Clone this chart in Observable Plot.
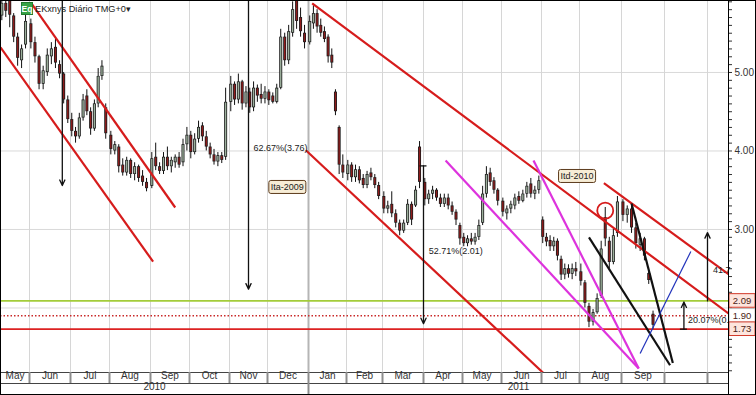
<!DOCTYPE html>
<html><head><meta charset="utf-8">
<script src="https://cdn.jsdelivr.net/npm/d3@7"></script>
<script src="https://cdn.jsdelivr.net/npm/@observablehq/plot@0.6"></script>
<style>
html,body{margin:0;padding:0;background:#fff;}
#wrap{position:relative;width:756px;height:395px;overflow:hidden;}
#title{position:absolute;left:21px;top:2px;font:9.2px "Liberation Sans",Arial,sans-serif;color:#222;display:flex;align-items:center;gap:2px;white-space:nowrap;height:13px;}
#title .eq{background:#36a346;color:#fff;font-weight:bold;font-size:8.5px;width:12px;height:13px;display:inline-flex;align-items:center;justify-content:center;box-sizing:border-box;border:1px solid #227a2e;}
</style></head><body>
<div id="wrap"><div id="chart"></div><div id="title"><span class="eq">Eq</span><span>EKxnys Diário TMG+0▾</span></div></div>
<script>
// ---------- scale breakpoints (trading-calendar month starts) ----------
const scaleDates = ["2010-05-10","2010-06-01","2010-07-01","2010-08-01","2010-09-01","2010-10-01","2010-11-01","2010-12-01","2011-01-01","2011-02-01","2011-03-01","2011-04-01","2011-05-01","2011-06-01","2011-07-01","2011-08-01","2011-09-01","2011-10-01","2011-11-01","2011-11-16"];
const monthLabels = ["May","Jun","Jul","Aug","Sep","Oct","Nov","Dec","Jan","Feb","Mar","Apr","May","Jun","Jul","Aug","Sep"];
const yearLabels = ["2010","2011"];
const yearBounds = ["2010-05-10","2011-01-01","2011-11-16"];
const yDomain = [1.178, 5.917];
const yMajorTicks = [3, 4, 5];
const yTickLabels = ["3.00","4.00","5.00"];
const gridValues = [2, 3, 4, 5];

// ---------- price levels ----------
const levelValues = [2.09, 1.90, 1.73];
const levelLabels = ["2.09","1.90","1.73"];

// ---------- candles: [date, open, high, low, close] ----------
const candles2010 = [
["2010-05-11",5.72,5.95,5.66,5.88],["2010-05-14",5.88,5.95,5.70,5.78],["2010-05-17",5.95,6.00,5.57,5.73],
["2010-05-20",5.72,5.75,5.38,5.45],["2010-05-23",5.45,5.50,5.08,5.18],["2010-05-26",5.15,5.35,5.05,5.30],
["2010-05-29",5.35,5.78,5.30,5.65],
["2010-06-02",5.62,5.68,5.30,5.38],["2010-06-05",5.38,5.45,5.12,5.20],["2010-06-08",5.20,5.22,4.78,4.85],
["2010-06-11",4.85,5.08,4.78,5.02],["2010-06-14",5.00,5.30,4.95,5.22],["2010-06-17",5.20,5.38,5.10,5.30],
["2010-06-20",5.32,5.42,5.05,5.12],["2010-06-23",5.10,5.15,4.92,4.98],["2010-06-26",4.98,5.00,4.60,4.65],
["2010-06-29",4.65,4.70,4.35,4.40],
["2010-07-02",4.40,4.48,4.18,4.25],["2010-07-05",4.25,4.30,4.10,4.18],["2010-07-08",4.18,4.48,4.15,4.42],
["2010-07-11",4.42,4.72,4.38,4.65],["2010-07-14",4.70,4.78,4.45,4.50],["2010-07-17",4.50,4.55,4.20,4.28],
["2010-07-20",4.28,4.65,4.25,4.60],["2010-07-23",4.60,5.05,4.55,4.95],["2010-07-26",4.95,5.15,4.90,5.08],
["2010-07-29",4.55,4.60,4.15,4.22],
["2010-08-02",4.20,4.25,3.95,4.02],["2010-08-05",4.00,4.12,3.95,4.08],["2010-08-08",4.05,4.08,3.72,3.80],
["2010-08-11",3.82,3.90,3.68,3.72],["2010-08-14",3.72,3.92,3.68,3.88],["2010-08-17",3.88,3.90,3.65,3.70],
["2010-08-20",3.70,3.85,3.62,3.80],["2010-08-23",3.80,3.82,3.60,3.65],["2010-08-26",3.68,3.75,3.55,3.60],
["2010-08-29",3.60,3.65,3.48,3.52],
["2010-09-02",3.55,3.98,3.52,3.90],["2010-09-05",3.92,4.10,3.75,3.80],["2010-09-08",3.80,3.85,3.70,3.74],
["2010-09-11",3.74,3.98,3.70,3.92],["2010-09-14",3.92,4.05,3.75,3.80],["2010-09-17",3.80,3.92,3.72,3.88],
["2010-09-20",3.85,3.95,3.78,3.92],["2010-09-23",3.92,3.98,3.78,3.82],["2010-09-26",3.85,4.15,3.80,4.08],
["2010-09-29",4.08,4.30,4.00,4.20],
["2010-10-02",4.20,4.25,3.90,3.98],["2010-10-05",3.98,4.22,3.95,4.15],["2010-10-08",4.15,4.38,4.10,4.30],
["2010-10-11",4.32,4.36,4.12,4.18],["2010-10-14",4.18,4.25,4.00,4.05],["2010-10-17",4.05,4.10,3.90,3.95],
["2010-10-20",3.95,4.02,3.82,3.86],["2010-10-23",3.86,3.98,3.80,3.94],["2010-10-26",3.94,3.98,3.84,3.88],
["2010-10-29",3.92,4.80,3.88,4.62],
["2010-11-02",4.62,4.95,4.50,4.85],["2010-11-05",4.85,4.88,4.58,4.65],["2010-11-08",4.65,4.98,4.60,4.88],
["2010-11-11",4.88,4.90,4.52,4.60],["2010-11-14",4.60,4.82,4.55,4.75],["2010-11-17",4.75,4.80,4.48,4.55],
["2010-11-20",4.55,4.88,4.50,4.80],["2010-11-23",4.80,4.84,4.62,4.70],["2010-11-26",4.72,4.85,4.60,4.66],
["2010-11-29",4.66,4.82,4.60,4.75],
["2010-12-02",4.75,4.78,4.58,4.64],["2010-12-05",4.70,4.74,4.60,4.62],["2010-12-08",4.62,4.85,4.60,4.80],
["2010-12-11",4.80,5.55,4.78,5.45],["2010-12-14",5.45,5.50,5.08,5.15],["2010-12-17",5.15,5.60,5.10,5.52],
["2010-12-20",5.50,5.90,5.45,5.80],["2010-12-23",5.95,6.00,5.55,5.65],["2010-12-26",5.70,5.82,5.45,5.52],
["2010-12-29",5.50,5.60,5.30,5.38]
];
const candles2011 = [
["2011-01-02",5.38,5.72,5.35,5.65],["2011-01-05",5.62,5.85,5.55,5.75],["2011-01-08",5.75,5.80,5.50,5.58],
["2011-01-11",5.60,5.68,5.45,5.50],["2011-01-14",5.52,5.58,5.38,5.42],["2011-01-17",5.45,5.48,5.12,5.20],
["2011-01-20",5.22,5.30,5.05,5.12],["2011-01-23",4.75,4.78,4.45,4.50],["2011-01-26",4.30,4.32,3.70,3.82],
["2011-01-29",3.82,3.95,3.65,3.72],
["2011-02-02",3.70,3.88,3.62,3.82],["2011-02-05",3.82,3.85,3.60,3.66],["2011-02-08",3.66,3.82,3.60,3.76],
["2011-02-11",3.76,3.80,3.58,3.62],["2011-02-14",3.65,3.70,3.52,3.56],["2011-02-17",3.56,3.74,3.52,3.70],
["2011-02-20",3.72,3.78,3.62,3.66],["2011-02-23",3.66,3.70,3.52,3.56],["2011-02-26",3.56,3.60,3.38,3.42],
["2011-03-02",3.42,3.48,3.20,3.26],["2011-03-05",3.26,3.36,3.20,3.30],["2011-03-08",3.32,3.48,3.15,3.20],
["2011-03-11",3.20,3.25,3.02,3.08],["2011-03-14",3.08,3.12,2.92,2.98],["2011-03-17",2.98,3.12,2.95,3.08],
["2011-03-20",3.08,3.38,3.05,3.32],["2011-03-23",3.32,3.35,3.05,3.12],["2011-03-26",3.30,3.55,3.28,3.50],
["2011-03-29",4.05,4.12,3.52,3.60],
["2011-04-02",3.60,3.65,3.30,3.38],["2011-04-05",3.38,3.50,3.32,3.45],["2011-04-08",3.45,3.55,3.38,3.50],
["2011-04-11",3.50,3.52,3.36,3.40],["2011-04-14",3.40,3.45,3.28,3.32],["2011-04-17",3.32,3.45,3.28,3.40],
["2011-04-20",3.40,3.45,3.25,3.30],["2011-04-23",3.30,3.35,3.18,3.22],["2011-04-26",3.22,3.25,3.05,3.12],
["2011-04-29",3.05,3.08,2.80,2.88],
["2011-05-02",2.90,2.95,2.78,2.82],["2011-05-05",2.82,2.92,2.78,2.88],["2011-05-08",2.88,2.95,2.80,2.84],
["2011-05-11",2.84,2.95,2.80,2.90],["2011-05-14",2.90,3.12,2.86,3.05],["2011-05-17",3.08,3.55,3.05,3.45],
["2011-05-20",3.45,3.80,3.40,3.70],["2011-05-23",3.72,3.78,3.55,3.60],["2011-05-26",3.62,3.66,3.45,3.50],
["2011-05-29",3.50,3.52,3.30,3.36],
["2011-06-02",3.36,3.40,3.16,3.22],["2011-06-05",3.20,3.30,3.12,3.26],["2011-06-08",3.26,3.36,3.20,3.32],
["2011-06-11",3.30,3.45,3.25,3.40],["2011-06-14",3.42,3.48,3.32,3.36],["2011-06-17",3.36,3.50,3.34,3.45],
["2011-06-20",3.45,3.60,3.40,3.55],["2011-06-23",3.58,3.65,3.40,3.45],["2011-06-26",3.45,3.55,3.38,3.50],
["2011-06-29",3.50,3.68,3.45,3.62],
["2011-07-02",3.12,3.16,2.82,2.90],["2011-07-05",2.90,2.95,2.78,2.84],["2011-07-08",2.86,2.92,2.72,2.78],
["2011-07-11",2.78,2.90,2.72,2.85],["2011-07-14",2.85,2.88,2.60,2.66],["2011-07-17",2.62,2.66,2.35,2.42],
["2011-07-20",2.42,2.56,2.36,2.50],["2011-07-23",2.50,2.55,2.38,2.43],["2011-07-26",2.43,2.56,2.36,2.50],
["2011-07-29",2.50,2.58,2.40,2.46],
["2011-08-02",2.46,2.56,2.28,2.34],["2011-08-05",2.32,2.35,2.00,2.06],["2011-08-08",2.02,2.06,1.75,1.82],
["2011-08-11",1.82,1.98,1.77,1.94],["2011-08-14",1.94,2.18,1.92,2.12],["2011-08-17",2.15,2.85,2.12,2.75],
["2011-08-20",3.15,3.28,2.78,2.88],["2011-08-23",2.85,2.90,2.50,2.58],["2011-08-26",2.58,3.00,2.55,2.92],
["2011-08-29",2.95,3.42,2.90,3.35],
["2011-09-02",3.35,3.38,3.10,3.18],["2011-09-05",3.18,3.30,3.08,3.26],["2011-09-08",3.26,3.30,2.95,3.02],
["2011-09-11",3.02,3.08,2.75,2.82],["2011-09-14",2.80,2.95,2.72,2.88],["2011-09-17",2.88,2.90,2.60,2.66],
["2011-09-20",2.44,2.47,2.30,2.35],["2011-09-23",1.92,1.96,1.73,1.78]
];

// ---------- drawn trend lines: [date1, value1, date2, value2] ----------
const redLines = [
  ["2010-05-10",5.32,"2010-09-03",2.59],
  ["2010-06-02",5.89,"2010-09-20",3.28],
  ["2011-01-04",5.88,"2011-11-16",1.93],
  ["2011-08-19",3.59,"2011-11-16",2.43],
  ["2010-12-30",4.01,"2011-07-04",1.15]
];
const magentaLines = [
  ["2011-04-18",3.88,"2011-09-13",1.23],
  ["2011-06-25",3.88,"2011-09-13",1.23]
];
const blackLines = [
  ["2011-08-08",2.90,"2011-10-05",1.27],
  ["2011-09-08",3.33,"2011-10-07",1.30]
];
const blueLines = [["2011-09-14",1.42,"2011-10-20",2.72]];

// ---------- measurement arrows: [date, from, to] ----------
const measureArrows = [
  ["2010-06-25",5.95,3.56],
  ["2010-11-16",6.00,2.24],
  ["2011-04-01",3.81,1.80],
  ["2011-11-01",2.09,2.96],
  ["2011-10-15",1.73,2.077]
];
const arrowTails = [["2011-04-01",3.81],["2011-10-15",1.73]];

// ---------- annotations (as visible in the chart, the last two are cut by the price axis) ----------
const pctNotes = [
  ["2010-11-20",4.04,"62.67%(3.76)"],
  ["2011-04-05",2.73,"52.71%(2.01)"],
  ["2011-11-05",2.48,"41.7"],
  ["2011-10-18",1.84,"20.07%(0."]
];
const tagNotes = [["2010-12-16",3.54,"Ita-2009"],["2011-07-30",3.68,"Itd-2010"]];
const circleMarks = [["2011-08-20",3.24]];

// ---------- build ----------
const parse = d3.utcParse("%Y-%m-%d");
const xDomain = scaleDates.map(parse);
const xRange = [0,29,70,109,150,189,229,267,308,346,382,423,462,501,541,579,621,664,707,728];
const xs = d3.scaleUtc(xDomain, xRange);
const midDate = (a, b) => xs.invert((xs(parse(a)) + xs(parse(b))) / 2);
const xEnd = xDomain[xDomain.length - 1];
const monthStarts = xDomain.slice(1, -1);
const yearStart = parse("2011-01-01");

const candles = [...candles2010, ...candles2011].map(([d,o,h,l,c]) => ({
  date: parse(d), open: o, high: h, low: l, close: c, top: Math.max(o,c), bot: Math.min(o,c)
}));
const upC = candles.filter(d => d.close >= d.open);
const dnC = candles.filter(d => d.close < d.open);
const seg = rows => rows.map(([a,v1,b,v2]) => ({x1: parse(a), y1: v1, x2: parse(b), y2: v2}));
const arrows = measureArrows.map(([d,f,t]) => ({x: parse(d), from: f, to: t}));
const tails = arrowTails.map(([d,v]) => ({x: parse(d), y: v}));
const notes = pctNotes.map(([d,v,t]) => ({x: parse(d), y: v, text: t}));
const tags = tagNotes.map(([d,v,t]) => ({x: parse(d), y: v, text: t}));
const circles = circleMarks.map(([d,v]) => ({x: parse(d), y: v}));
const monthCells = monthLabels.map((m,i) => ({label: m, x: midDate(scaleDates[i], scaleDates[i+1])}));
const yearCells = yearLabels.map((y,i) => ({label: y, x: midDate(yearBounds[i], yearBounds[i+1])}));
const levels = levelValues.map((v,i) => ({y: v, label: levelLabels[i]}));
const minorTicks = d3.range(12, 60).map(i => i / 10);

const lineOpts = {x1: "x1", y1: "y1", x2: "x2", y2: "y2", clip: true, strokeLinecap: "butt"};

const plot = Plot.plot({
  width: 756, height: 395,
  marginTop: 0, marginLeft: 0, marginRight: 28, marginBottom: 23,
  style: {fontFamily: "'Liberation Sans', Arial, sans-serif", fontSize: "10px", background: "#fff", color: "#333"},
  x: {type: "utc", domain: xDomain, range: xRange, axis: null},
  y: {domain: yDomain, axis: "right", ticks: minorTicks, tickSize: 3, tickPadding: 3, label: null,
      tickFormat: d => { const k = yMajorTicks.findIndex(m => Math.abs(m - d) < 1e-9); return k >= 0 ? yTickLabels[k] : ""; }},
  marks: [
    Plot.ruleY(gridValues, {stroke: "#d9d9d9", strokeWidth: 1}),
    Plot.ruleX(monthStarts.filter(d => +d !== +yearStart), {stroke: "#d6d6d6", strokeWidth: 1}),
    Plot.ruleX([yearStart], {stroke: "#b5b5b5", strokeWidth: 2}),
    Plot.ruleY([levelValues[0]], {stroke: "#a3cc3a", strokeWidth: 1.6}),
    Plot.ruleY([levelValues[1]], {stroke: "#c92a2a", strokeWidth: 1.5, strokeDasharray: "1.5,2"}),
    Plot.ruleY([levelValues[2]], {stroke: "#dc2222", strokeWidth: 1.6}),
    // candles
    Plot.ruleX(candles, {x: "date", y1: "low", y2: "high", stroke: "#111", strokeWidth: 1, clip: true}),
    Plot.ruleX(candles, {x: "date", y1: "top", y2: "bot", stroke: "#1a1a1a", strokeWidth: 3, clip: true}),
    Plot.ruleX(upC, {x: "date", y1: "top", y2: "bot", stroke: "#9cb09c", strokeWidth: 1.4, insetTop: 0.7, insetBottom: 0.7, clip: true}),
    Plot.ruleX(dnC, {x: "date", y1: "top", y2: "bot", stroke: "#8e1c1c", strokeWidth: 1.4, insetTop: 0.7, insetBottom: 0.7, clip: true}),
    // trend lines
    Plot.link(seg(redLines), {...lineOpts, stroke: "#d61c1c", strokeWidth: 2.2}),
    Plot.link(seg(magentaLines), {...lineOpts, stroke: "#dd33dd", strokeWidth: 2.2}),
    Plot.link(seg(blackLines), {...lineOpts, stroke: "#111", strokeWidth: 2.2}),
    Plot.link(seg(blueLines), {...lineOpts, stroke: "#2233bb", strokeWidth: 1.2}),
    // arrows
    Plot.arrow(arrows, {x1: "x", x2: "x", y1: "from", y2: "to", stroke: "#111", strokeWidth: 1.3, headLength: 7, headAngle: 50, clip: true}),
    Plot.ruleY(tails, {x1: "x", x2: "x", y: "y", insetLeft: -3.5, insetRight: -3.5, stroke: "#111", strokeWidth: 1.3}),
    Plot.dot(circles, {x: "x", y: "y", r: 8, stroke: "#d61c1c", strokeWidth: 1.8, fill: "none"}),
    // annotations
    Plot.text(notes, {x: "x", y: "y", text: "text", textAnchor: "start", fontSize: 9, fill: "#222"}),
    Plot.text(tags, {x: "x", y: "y", text: "text", textAnchor: "middle", fontSize: 9, fill: "#222"}),
    Plot.text(levels, {x: () => xEnd, y: "y", text: "label", dx: 13.5, textAnchor: "middle", fontSize: 9.5, fill: "#4a1c14"}),
    // bottom time axis
    Plot.ruleY([yDomain[0]], {stroke: "#444", strokeWidth: 1}),
    Plot.ruleY([yDomain[0]], {stroke: "#444", strokeWidth: 1, dy: 11}),
    Plot.ruleX(monthStarts, {insetTop: 372, insetBottom: -11, stroke: "#8c8c8c", strokeWidth: 2}),
    Plot.ruleX([yearStart], {insetTop: 383, insetBottom: -23, stroke: "#8c8c8c", strokeWidth: 2}),
    Plot.text(monthCells, {x: "x", text: "label", frameAnchor: "bottom", dy: 6, fontSize: 10, fill: "#333"}),
    Plot.text(yearCells, {x: "x", text: "label", frameAnchor: "bottom", dy: 17, fontSize: 10, fill: "#333"}),
    Plot.ruleX([xEnd], {insetBottom: -23, stroke: "#000", strokeWidth: 1})
  ]
});
plot.style.outline = "1px solid #000";
plot.style.outlineOffset = "-1px";
document.getElementById("chart").append(plot);

// label boxes behind tag / price texts
const boxSpec = new Map([
  ["Ita-2009", {fill: "#f7edd6", stroke: "#5c3b1c", px: 2, py: 1.5, rx: 2}],
  ["Itd-2010", {fill: "#f7edd6", stroke: "#5c3b1c", px: 2, py: 1.5, rx: 2}],
  ["2.09", {fill: "#fde5dd", stroke: "#d23a2a", px: 3.8, py: 1.3, rx: 0}],
  ["1.90", {fill: "#ffffff", stroke: "#bbbbbb", px: 3.8, py: 1.3, rx: 0}],
  ["1.73", {fill: "#fde5dd", stroke: "#d23a2a", px: 3.8, py: 1.3, rx: 0}]
]);
plot.querySelectorAll("text").forEach(t => {
  const s = boxSpec.get(t.textContent);
  if (!s) return;
  const b = t.getBBox();
  const r = document.createElementNS("http://www.w3.org/2000/svg", "rect");
  r.setAttribute("x", b.x - s.px);
  r.setAttribute("y", b.y - s.py);
  r.setAttribute("width", b.width + 2 * s.px);
  r.setAttribute("height", b.height + 2 * s.py);
  r.setAttribute("rx", s.rx);
  r.setAttribute("fill", s.fill);
  r.setAttribute("stroke", s.stroke);
  r.setAttribute("stroke-width", 1);
  const tr = t.getAttribute("transform");
  if (tr) r.setAttribute("transform", tr);
  t.parentNode.insertBefore(r, t);
});
</script></body></html>
